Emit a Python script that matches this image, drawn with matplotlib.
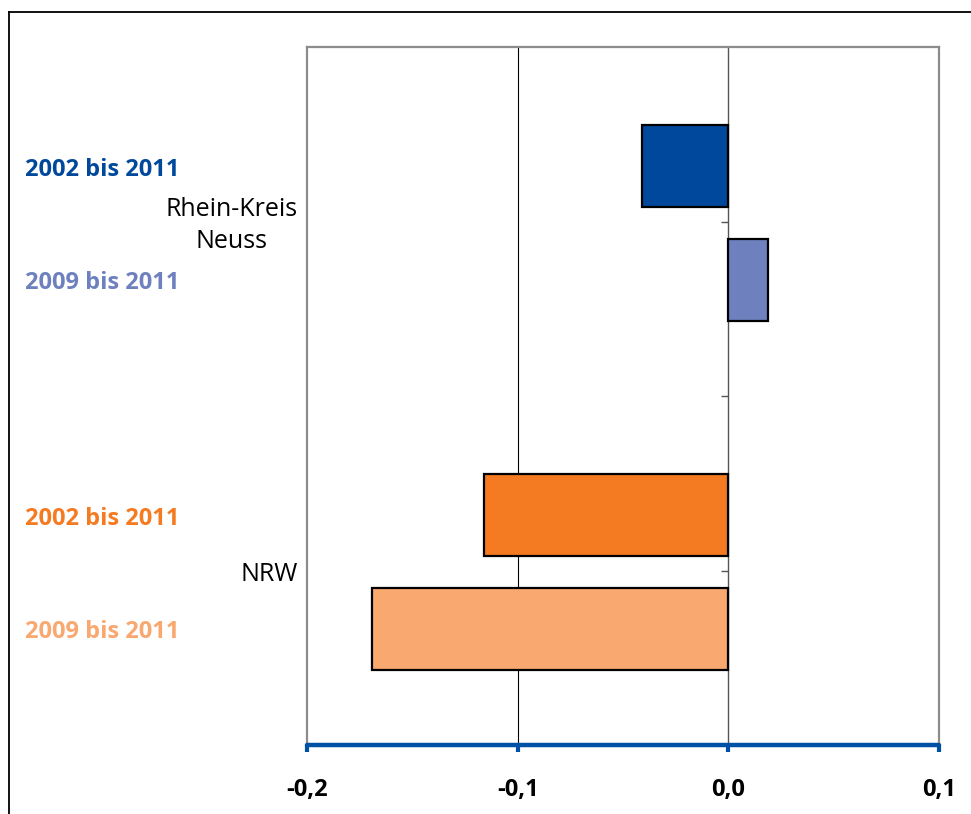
import matplotlib
matplotlib.use("Agg")
import matplotlib.pyplot as plt
from matplotlib.lines import Line2D
from matplotlib.transforms import blended_transform_factory

# data
regions = ["Rhein-Kreis\nNeuss", "NRW"]
periods = ["2002 bis 2011", "2009 bis 2011"]
values_rkn = [-0.041, 0.019]
values_nrw = [-0.116, -0.169]
xticks = [-0.2, -0.1, 0.0, 0.1]
xtick_labels = ["-0,2", "-0,1", "0,0", "0,1"]

colors_rkn = ["#00489C", "#6F80BE"]
colors_nrw = ["#F47B22", "#F9A870"]

plt.rcParams["font.family"] = ["Open Sans", "DejaVu Sans"]

fig = plt.figure(figsize=(9.71, 8.14), dpi=100)
ax = fig.add_axes([307 / 971, 69 / 814, 632 / 971, 698 / 814])
trans = blended_transform_factory(fig.transFigure, ax.transData)

group_pos = [1, 3]
offsets = [-0.318, 0.333]
bar_h = 0.47
nudge = 0.022  # text sits a touch lower than the bar centre

for g, vals, cols in [(0, values_rkn, colors_rkn), (1, values_nrw, colors_nrw)]:
	for i, v in enumerate(vals):
		y = group_pos[g] + offsets[i]
		ax.barh(y, v, height=bar_h, color=cols[i], edgecolor="black",
			linewidth=1.6, zorder=3)
		ax.text(25 / 971, y + nudge, periods[i], transform=trans,
			ha="left", va="center", fontsize=17, fontweight="bold", color=cols[i])
	ax.text(-0.2045, group_pos[g] + nudge, regions[g], ha="right", va="center",
		multialignment="center", fontsize=18, color="black", linespacing=1.35)

ax.set_xlim(-0.2, 0.1)
ax.set_ylim(4, 0)

# gridlines
ax.axvline(-0.1, color="black", lw=0.8, zorder=1)
ax.axvline(0.0, color="#555555", lw=1.0, zorder=2)
ax.plot([0, 0, 0], [1, 2, 3], linestyle="none", marker=0, markersize=5,
	color="#555555", markeredgewidth=1.0, zorder=2)

ax.set_yticks([])
ax.set_xticks(xticks)
ax.set_xticklabels(xtick_labels, fontsize=17, fontweight="bold")
ax.tick_params(axis="x", direction="out", length=5, width=3, color="#0050A5", pad=19)

for s in ["left", "top", "right"]:
	ax.spines[s].set_color("#8C8C8C")
	ax.spines[s].set_linewidth(1.6)
ax.spines["bottom"].set_color("#0050A5")
ax.spines["bottom"].set_linewidth(3.2)
ax.spines["bottom"].set_capstyle("round")
ax.spines["bottom"].set_zorder(4)

# outer frame
fig.add_artist(Line2D([9 / 971, 1.0], [1 - 12 / 814, 1 - 12 / 814], color="black", lw=1.3))
fig.add_artist(Line2D([9 / 971, 9 / 971], [0.0, 1 - 12 / 814], color="black", lw=1.3))

fig.savefig("out.png", dpi=100)
